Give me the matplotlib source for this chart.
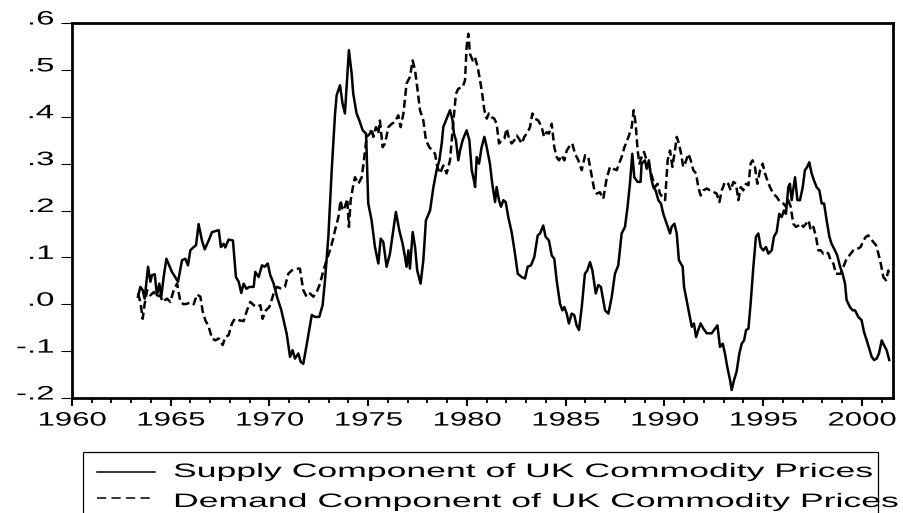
import matplotlib
matplotlib.use("Agg")
import matplotlib.pyplot as plt
from matplotlib.patches import Rectangle
from matplotlib.lines import Line2D
from matplotlib.ticker import MultipleLocator
from matplotlib.transforms import Affine2D
import matplotlib.patheffects as pe

# supply component (solid line)
supply_years = [
    1963.34, 1963.46, 1963.58, 1963.68, 1963.85, 1963.97, 1964.05, 1964.19, 1964.30, 1964.42,
    1964.52, 1964.64, 1964.78, 1965.06, 1965.37, 1965.57, 1965.74, 1965.87, 1965.99, 1966.16,
    1966.28, 1966.41, 1966.58, 1966.72, 1966.92, 1967.09, 1967.26, 1967.43, 1967.54, 1967.68,
    1967.76, 1967.93, 1968.15, 1968.30, 1968.44, 1968.57, 1968.69, 1968.83, 1968.98, 1969.20,
    1969.28, 1969.45, 1969.62, 1969.76, 1969.91, 1970.04, 1970.21, 1970.38, 1970.60, 1970.87,
    1971.04, 1971.17, 1971.29, 1971.46, 1971.58, 1971.71, 1971.88, 1972.14, 1972.30, 1972.52,
    1972.69, 1972.81, 1972.98, 1973.15, 1973.32, 1973.40, 1973.57, 1973.70, 1973.82, 1974.02,
    1974.16, 1974.24, 1974.41, 1974.55, 1974.72, 1974.89, 1974.95, 1975.00, 1975.17, 1975.34,
    1975.51, 1975.63, 1975.76, 1975.93, 1976.10, 1976.27, 1976.40, 1976.57, 1976.74, 1976.86,
    1976.94, 1977.03, 1977.11, 1977.25, 1977.37, 1977.48, 1977.65, 1977.79, 1977.92, 1978.13,
    1978.30, 1978.46, 1978.60, 1978.72, 1978.80, 1978.97, 1979.14, 1979.27, 1979.34, 1979.44,
    1979.56, 1979.65, 1979.78, 1979.98, 1980.12, 1980.24, 1980.35, 1980.41, 1980.49, 1980.61,
    1980.74, 1980.88, 1981.00, 1981.16, 1981.28, 1981.42, 1981.50, 1981.62, 1981.72, 1981.84,
    1981.96, 1982.09, 1982.26, 1982.43, 1982.57, 1982.77, 1982.94, 1983.07, 1983.24, 1983.41,
    1983.58, 1983.70, 1983.86, 1983.98, 1984.15, 1984.29, 1984.42, 1984.54, 1984.71, 1984.83,
    1984.93, 1985.05, 1985.16, 1985.30, 1985.43, 1985.55, 1985.67, 1985.81, 1985.97, 1986.09,
    1986.23, 1986.35, 1986.52, 1986.65, 1986.78, 1986.99, 1987.16, 1987.33, 1987.49, 1987.66,
    1987.83, 1988.00, 1988.13, 1988.25, 1988.37, 1988.47, 1988.64, 1988.79, 1988.84, 1989.01,
    1989.10, 1989.21, 1989.32, 1989.43, 1989.55, 1989.69, 1989.82, 1989.94, 1990.11, 1990.28,
    1990.36, 1990.50, 1990.62, 1990.73, 1990.92, 1990.99, 1991.12, 1991.26, 1991.38, 1991.49,
    1991.60, 1991.71, 1991.83, 1991.97, 1992.14, 1992.39, 1992.56, 1992.68, 1992.81, 1992.95,
    1993.06, 1993.18, 1993.32, 1993.40, 1993.52, 1993.65, 1993.79, 1993.91, 1994.03, 1994.13,
    1994.25, 1994.36, 1994.50, 1994.63, 1994.75, 1994.87, 1995.00, 1995.14, 1995.26, 1995.43,
    1995.54, 1995.68, 1995.81, 1995.93, 1996.05, 1996.15, 1996.27, 1996.35, 1996.44, 1996.61,
    1996.73, 1996.86, 1997.00, 1997.11, 1997.23, 1997.33, 1997.45, 1997.57, 1997.70, 1997.84,
    1997.96, 1998.08, 1998.21, 1998.35, 1998.46, 1998.63, 1998.75, 1998.89, 1999.02, 1999.14,
    1999.22, 1999.39, 1999.53, 1999.65, 1999.81, 1999.98, 2000.10, 2000.24, 2000.37, 2000.49,
    2000.61, 2000.74, 2000.86, 2001.00, 2001.11, 2001.25, 2001.38,
]
supply = [
    0.016, 0.037, 0.030, 0.012, 0.080, 0.048, 0.062, 0.064, 0.019, 0.044,
    0.016, 0.058, 0.097, 0.069, 0.048, 0.094, 0.097, 0.083, 0.115, 0.122,
    0.126, 0.171, 0.136, 0.117, 0.136, 0.154, 0.156, 0.158, 0.122, 0.129,
    0.121, 0.138, 0.136, 0.058, 0.048, 0.024, 0.044, 0.033, 0.037, 0.037,
    0.069, 0.058, 0.083, 0.080, 0.087, 0.062, 0.044, 0.016, -0.013, -0.063,
    -0.112, -0.098, -0.116, -0.105, -0.123, -0.127, -0.087, -0.023, -0.027, -0.027,
    -0.002, 0.051, 0.144, 0.286, 0.407, 0.446, 0.467, 0.428, 0.407, 0.542,
    0.492, 0.449, 0.407, 0.392, 0.371, 0.364, 0.286, 0.215, 0.179, 0.122,
    0.087, 0.140, 0.133, 0.080, 0.108, 0.158, 0.197, 0.158, 0.129, 0.101,
    0.080, 0.115, 0.076, 0.154, 0.122, 0.072, 0.044, 0.094, 0.179, 0.200,
    0.250, 0.286, 0.307, 0.343, 0.378, 0.396, 0.414, 0.392, 0.364, 0.350,
    0.307, 0.328, 0.350, 0.371, 0.350, 0.286, 0.264, 0.250, 0.314, 0.300,
    0.335, 0.357, 0.335, 0.300, 0.257, 0.218, 0.250, 0.222, 0.208, 0.222,
    0.218, 0.186, 0.154, 0.108, 0.065, 0.058, 0.055, 0.080, 0.083, 0.101,
    0.147, 0.151, 0.168, 0.144, 0.136, 0.104, 0.097, 0.051, 0.001, -0.013,
    -0.006, -0.020, -0.041, -0.020, -0.023, -0.045, -0.055, -0.006, 0.065, 0.072,
    0.090, 0.072, 0.023, 0.041, 0.037, -0.013, -0.020, 0.016, 0.065, 0.083,
    0.151, 0.165, 0.208, 0.257, 0.321, 0.271, 0.261, 0.261, 0.300, 0.307,
    0.289, 0.307, 0.271, 0.250, 0.243, 0.222, 0.215, 0.193, 0.172, 0.151,
    0.165, 0.172, 0.151, 0.094, 0.080, 0.037, 0.009, -0.020, -0.048, -0.041,
    -0.070, -0.055, -0.041, -0.052, -0.062, -0.062, -0.052, -0.045, -0.091, -0.084,
    -0.105, -0.134, -0.162, -0.183, -0.162, -0.144, -0.105, -0.084, -0.077, -0.055,
    -0.052, 0.001, 0.080, 0.144, 0.151, 0.122, 0.115, 0.122, 0.108, 0.115,
    0.144, 0.154, 0.193, 0.186, 0.200, 0.193, 0.250, 0.257, 0.222, 0.271,
    0.222, 0.222, 0.250, 0.286, 0.293, 0.303, 0.279, 0.264, 0.250, 0.243,
    0.215, 0.215, 0.179, 0.144, 0.129, 0.115, 0.104, 0.080, 0.065, 0.044,
    0.009, -0.006, -0.013, -0.013, -0.027, -0.034, -0.059, -0.077, -0.095, -0.112,
    -0.119, -0.116, -0.105, -0.077, -0.087, -0.098, -0.119,
]

# demand component (dashed line)
demand_years = [
    1963.34, 1963.46, 1963.58, 1963.68, 1963.80, 1963.97, 1964.14, 1964.30, 1964.47, 1964.59,
    1964.81, 1964.98, 1965.15, 1965.32, 1965.49, 1965.65, 1965.82, 1965.99, 1966.16, 1966.33,
    1966.50, 1966.62, 1966.75, 1966.92, 1967.09, 1967.26, 1967.43, 1967.63, 1967.76, 1967.93,
    1968.10, 1968.24, 1968.44, 1968.69, 1968.86, 1969.03, 1969.20, 1969.37, 1969.54, 1969.65,
    1969.82, 1969.99, 1970.13, 1970.26, 1970.38, 1970.60, 1970.78, 1970.95, 1971.12, 1971.38,
    1971.54, 1971.71, 1971.88, 1972.05, 1972.22, 1972.39, 1972.56, 1972.73, 1972.89, 1973.06,
    1973.20, 1973.32, 1973.49, 1973.60, 1973.70, 1973.82, 1973.94, 1974.02, 1974.11, 1974.24,
    1974.33, 1974.50, 1974.67, 1974.78, 1974.92, 1975.09, 1975.17, 1975.26, 1975.39, 1975.51,
    1975.59, 1975.73, 1975.85, 1976.02, 1976.19, 1976.35, 1976.52, 1976.64, 1976.78, 1976.94,
    1977.11, 1977.25, 1977.37, 1977.48, 1977.62, 1977.79, 1977.92, 1978.09, 1978.26, 1978.38,
    1978.50, 1978.63, 1978.80, 1978.97, 1979.14, 1979.27, 1979.44, 1979.56, 1979.78, 1979.90,
    1979.98, 1980.07, 1980.15, 1980.29, 1980.40, 1980.54, 1980.66, 1980.78, 1980.88, 1981.00,
    1981.11, 1981.25, 1981.38, 1981.50, 1981.62, 1981.76, 1981.89, 1982.01, 1982.13, 1982.26,
    1982.40, 1982.52, 1982.63, 1982.77, 1982.90, 1983.07, 1983.19, 1983.31, 1983.44, 1983.61,
    1983.78, 1983.90, 1984.03, 1984.15, 1984.29, 1984.42, 1984.54, 1984.66, 1984.79, 1984.93,
    1985.05, 1985.22, 1985.33, 1985.47, 1985.64, 1985.81, 1985.98, 1986.14, 1986.31, 1986.45,
    1986.57, 1986.73, 1986.90, 1987.07, 1987.24, 1987.41, 1987.58, 1987.70, 1987.83, 1987.97,
    1988.08, 1988.20, 1988.34, 1988.44, 1988.54, 1988.64, 1988.73, 1988.84, 1988.96, 1989.10,
    1989.21, 1989.32, 1989.43, 1989.52, 1989.65, 1989.77, 1989.89, 1990.03, 1990.16, 1990.28,
    1990.40, 1990.53, 1990.62, 1990.73, 1990.84, 1990.95, 1991.04, 1991.21, 1991.33, 1991.46,
    1991.60, 1991.71, 1991.83, 1991.97, 1992.14, 1992.30, 1992.47, 1992.64, 1992.78, 1992.90,
    1993.06, 1993.23, 1993.35, 1993.49, 1993.62, 1993.74, 1993.86, 1993.99, 1994.13, 1994.25,
    1994.36, 1994.46, 1994.58, 1994.70, 1994.84, 1994.97, 1995.09, 1995.21, 1995.34, 1995.51,
    1995.68, 1995.85, 1996.02, 1996.15, 1996.27, 1996.39, 1996.52, 1996.66, 1996.78, 1996.90,
    1997.03, 1997.17, 1997.30, 1997.40, 1997.54, 1997.67, 1997.79, 1997.91, 1998.04, 1998.18,
    1998.30, 1998.41, 1998.55, 1998.68, 1998.80, 1998.92, 1999.06, 1999.19, 1999.31, 1999.43,
    1999.56, 1999.70, 1999.81, 1999.93, 2000.07, 2000.20, 2000.32, 2000.44, 2000.57, 2000.71,
    2000.83, 2000.95, 2001.08, 2001.22, 2001.33, 2001.38,
]
demand = [
    0.023, 0.005, -0.031, 0.001, 0.030, 0.019, 0.026, 0.016, 0.019, 0.005,
    0.012, 0.005, 0.030, 0.044, 0.005, 0.000, 0.001, 0.004, 0.000, 0.021,
    0.016, -0.016, -0.034, -0.048, -0.073, -0.077, -0.073, -0.087, -0.070, -0.066,
    -0.041, -0.031, -0.034, -0.036, -0.013, 0.005, -0.002, -0.006, -0.002, -0.031,
    -0.013, -0.006, 0.012, 0.030, 0.037, 0.033, 0.037, 0.065, 0.072, 0.076,
    0.076, 0.030, 0.016, 0.023, 0.016, 0.026, 0.044, 0.072, 0.094, 0.115,
    0.136, 0.158, 0.186, 0.222, 0.200, 0.208, 0.225, 0.165, 0.222, 0.254,
    0.271, 0.257, 0.271, 0.307, 0.357, 0.364, 0.375, 0.357, 0.378, 0.364,
    0.392, 0.335, 0.343, 0.378, 0.385, 0.389, 0.403, 0.378, 0.407, 0.471,
    0.485, 0.520, 0.499, 0.463, 0.414, 0.392, 0.350, 0.335, 0.328, 0.321,
    0.293, 0.279, 0.296, 0.279, 0.307, 0.371, 0.449, 0.460, 0.463, 0.478,
    0.549, 0.577, 0.534, 0.520, 0.527, 0.506, 0.478, 0.446, 0.414, 0.396,
    0.407, 0.399, 0.396, 0.385, 0.343, 0.350, 0.353, 0.375, 0.353, 0.343,
    0.350, 0.360, 0.353, 0.343, 0.357, 0.367, 0.378, 0.407, 0.396, 0.392,
    0.378, 0.357, 0.367, 0.364, 0.385, 0.335, 0.314, 0.307, 0.318, 0.307,
    0.328, 0.339, 0.343, 0.321, 0.307, 0.286, 0.318, 0.314, 0.275, 0.243,
    0.236, 0.239, 0.225, 0.268, 0.293, 0.289, 0.286, 0.300, 0.314, 0.335,
    0.346, 0.360, 0.378, 0.414, 0.385, 0.328, 0.300, 0.314, 0.325, 0.307,
    0.300, 0.279, 0.264, 0.250, 0.257, 0.236, 0.229, 0.222, 0.307, 0.328,
    0.293, 0.328, 0.357, 0.343, 0.321, 0.293, 0.300, 0.321, 0.307, 0.286,
    0.279, 0.250, 0.232, 0.243, 0.247, 0.243, 0.240, 0.236, 0.218, 0.243,
    0.261, 0.257, 0.243, 0.261, 0.257, 0.222, 0.250, 0.243, 0.257, 0.254,
    0.300, 0.307, 0.293, 0.257, 0.286, 0.300, 0.279, 0.264, 0.250, 0.236,
    0.229, 0.218, 0.215, 0.208, 0.222, 0.208, 0.172, 0.165, 0.168, 0.172,
    0.165, 0.172, 0.179, 0.158, 0.165, 0.144, 0.115, 0.115, 0.108, 0.112,
    0.108, 0.094, 0.087, 0.065, 0.065, 0.065, 0.080, 0.094, 0.101, 0.108,
    0.115, 0.119, 0.119, 0.122, 0.136, 0.144, 0.147, 0.140, 0.133, 0.126,
    0.108, 0.087, 0.058, 0.051, 0.072, 0.065,
]

ytick_vals = [-0.2, -0.1, 0.0, 0.1, 0.2, 0.3, 0.4, 0.5, 0.6]
ytick_labels = ["-.2", "-.1", ".0", ".1", ".2", ".3", ".4", ".5", ".6"]
xtick_vals = [1960, 1965, 1970, 1975, 1980, 1985, 1990, 1995, 2000]
legend_labels = ["Supply Component of UK Commodity Prices",
                 "Demand Component of UK Commodity Prices"]


class Stretch(pe.AbstractPathEffect):
    # widen the glyphs of a text (the original is drawn very wide),
    # keeping its aligned edge in place; dy moves it up, in points
    def __init__(self, sx, anchor="left", dy=0):
        super().__init__(offset=(0, dy))
        self.sx = sx
        self.anchor = anchor

    def draw_path(self, renderer, gc, tpath, affine, rgbFace=None):
        xmax = tpath.vertices[:, 0].max() if len(tpath.vertices) else 0
        x0 = {"left": 0, "center": xmax / 2, "right": xmax}[self.anchor]
        st = Affine2D().translate(-x0, 0).scale(self.sx, 1).translate(x0, 0)
        renderer.draw_path(gc, tpath, st + affine + self._offset_transform(renderer),
                           rgbFace)


plt.rcParams["font.family"] = ["Liberation Sans", "DejaVu Sans"]

W, H = 904, 513
fig = plt.figure(figsize=(W / 100, H / 100), dpi=100)
ax = fig.add_axes([72 / W, 1 - 398 / H, (893 - 72) / W, (398 - 23) / H])

ax.plot(supply_years, supply, color="black", lw=1.8)
ax.plot(demand_years, demand, color="black", lw=1.8, dashes=(3.2, 1.6))

ax.set_xlim(1960, 2001.57)
ax.set_ylim(-0.2, 0.6)

ax.set_xticks(xtick_vals)
ax.set_xticklabels([str(v) for v in xtick_vals])
ax.xaxis.set_minor_locator(MultipleLocator(1))
ax.set_yticks(ytick_vals)
ax.set_yticklabels(ytick_labels)

ax.tick_params(axis="x", which="major", direction="out", length=6, width=1.5,
               labelsize=14, pad=4.5)
ax.tick_params(axis="x", which="minor", direction="out", length=3.6, width=1.3)
ax.tick_params(axis="y", direction="out", length=8, width=0.8,
               labelsize=14, pad=5)

for lab in ax.get_xticklabels():
    lab.set_path_effects([Stretch(1.6, "center")])
for lab in ax.get_yticklabels():
    lab.set_path_effects([Stretch(1.7, "right", dy=3.6)])

for sp in ax.spines.values():
    sp.set_linewidth(2.0)

# legend box, cut off by the bottom of the picture as in the original
fig.add_artist(Rectangle((83 / W, -0.1), (878 - 83) / W, 0.1 + 1 - 452 / H,
                         transform=fig.transFigure, fill=False,
                         edgecolor="black", lw=0.9))
fig.add_artist(Line2D([97 / W, 155 / W], [1 - 472 / H, 1 - 472 / H],
                      transform=fig.transFigure, color="black", lw=1.1))
fig.add_artist(Line2D([97 / W, 155 / W], [1 - 498 / H, 1 - 498 / H],
                      transform=fig.transFigure, color="black", lw=1.1,
                      dashes=(6, 3.5)))
for i, txt in enumerate(legend_labels):
    fig.text(173 / W, 1 - (477 + 30 * i) / H, txt, fontsize=14,
             va="baseline", ha="left",
             path_effects=[Stretch(1.83, "left")])

fig.savefig("out.png", dpi=100)
